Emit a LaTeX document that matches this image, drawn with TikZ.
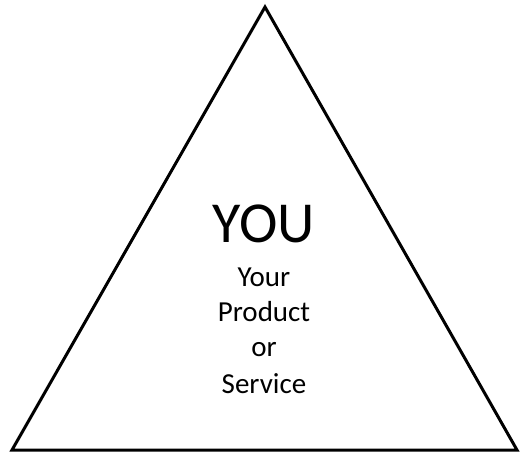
\documentclass[tikz,border=0pt]{standalone}
\usepackage{fontspec}
\setmainfont{Carlito}
\begin{document}
\begin{tikzpicture}[x=1pt,y=-1pt,
  tri/.style={draw=black,line width=3pt,line join=miter},
  big/.style={anchor=base,inner sep=0pt,font=\fontsize{58}{60}\selectfont},
  small/.style={anchor=base,inner sep=0pt,font=\fontsize{29}{35}\selectfont}]
\useasboundingbox (0,0) rectangle (521,454);
\coordinate (apex) at (265,7);
\coordinate (bl) at (12,450);
\coordinate (br) at (517,450);
\draw[tri] (apex) -- (bl) -- (br) -- cycle;
\node[big] (you) at (264,242) {YOU};
\node[small] (your) at (264,286) {Your};
\node[small] (product) at (264,321) {Product};
\node[small] (or) at (264,356) {or};
\node[small] (service) at (264,393) {Service};
\end{tikzpicture}
\end{document}
